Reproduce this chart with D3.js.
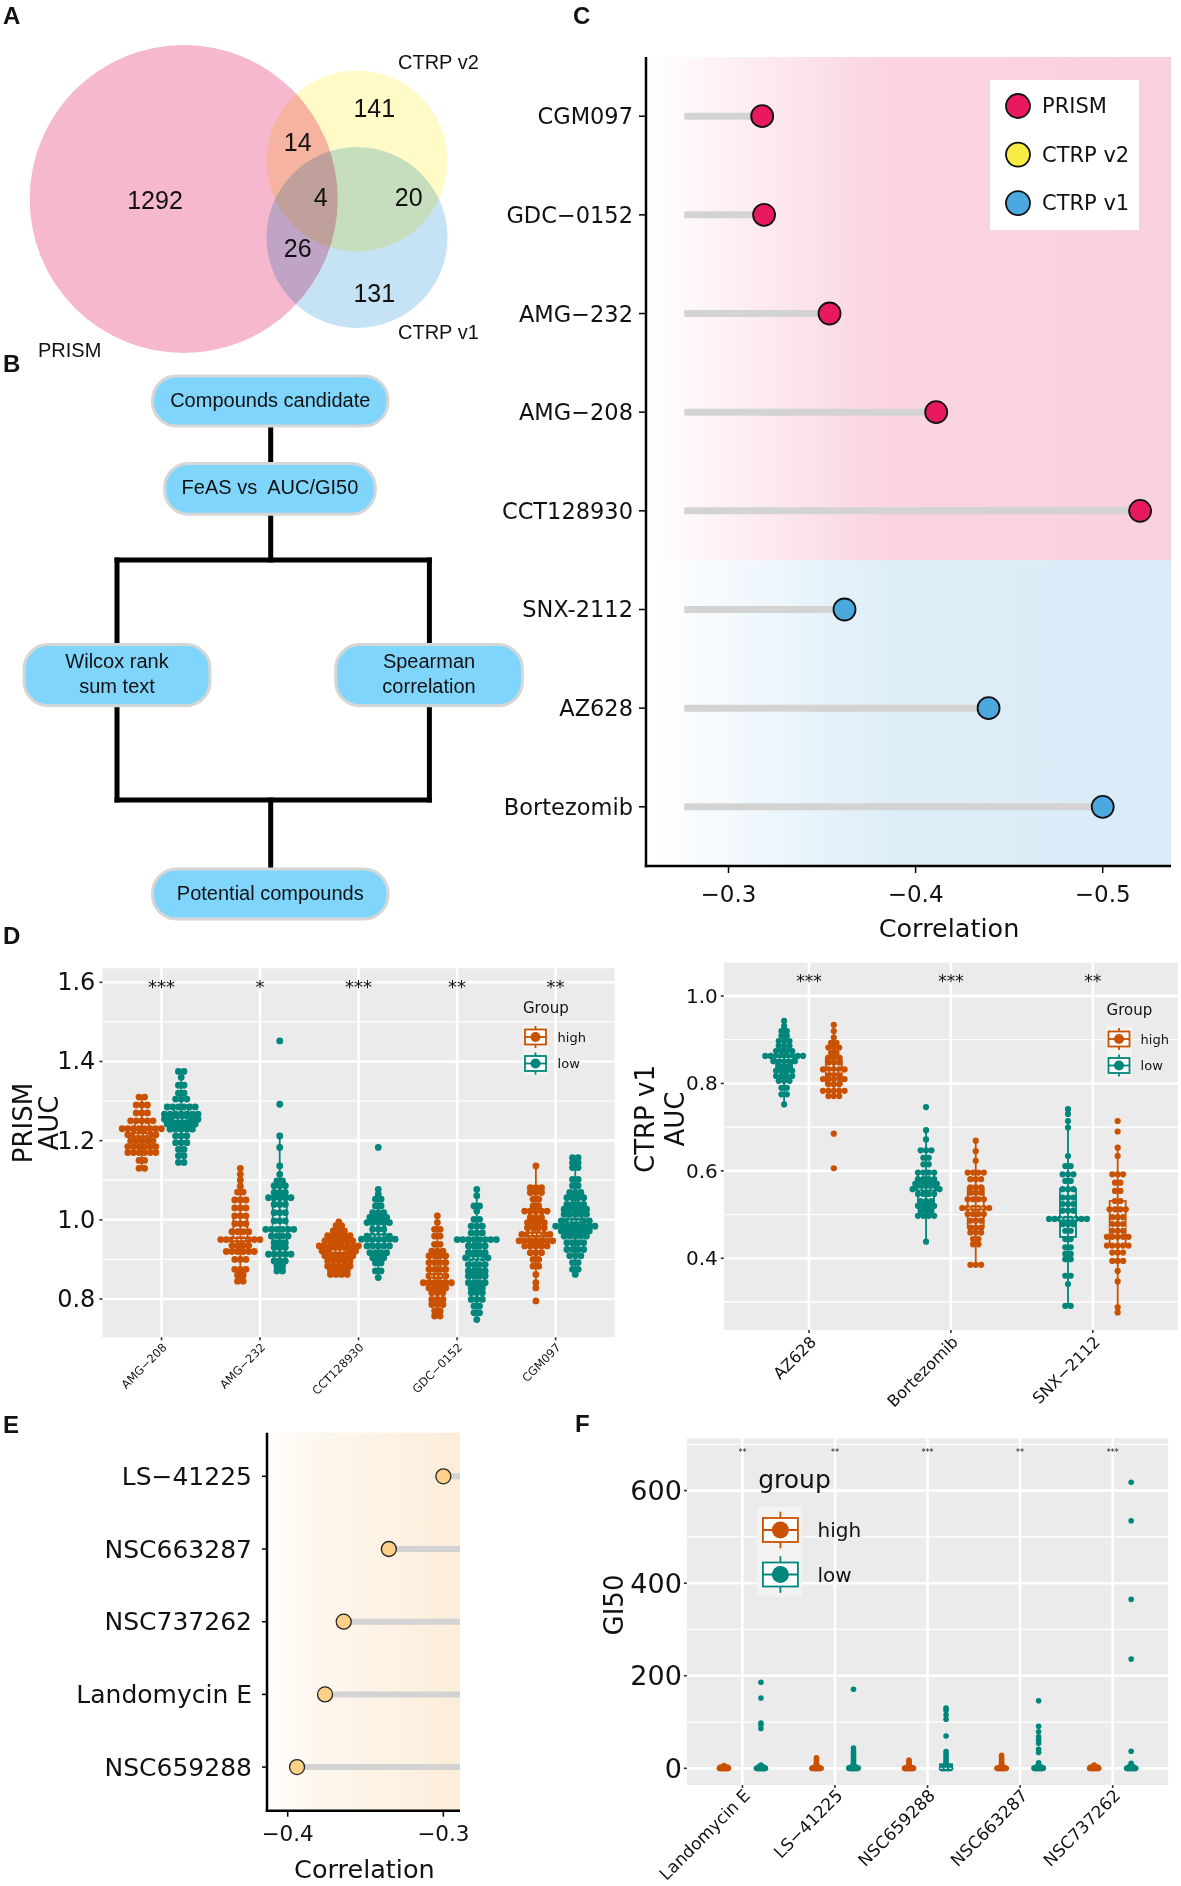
<!DOCTYPE html>
<html>
<head>
<meta charset="utf-8">
<script src="https://cdn.jsdelivr.net/npm/d3@7"></script>
<style>
  body { margin: 0; background: #fff; }
  text { font-family: "DejaVu Sans", sans-serif; fill: #111; }
  .arial { font-family: "Liberation Sans", Arial, sans-serif; }
</style>
</head>
<body>
<svg id="fig" width="1181" height="1886"></svg>
<script>
'use strict';

// ---------- data ----------
// A: venn
var vennSets = ['PRISM', 'CTRP v2', 'CTRP v1'];
var vennRegions = ['PRISM', 'CTRP v2', 'CTRP v1', 'PRISM+v2', 'PRISM+v1', 'v2+v1', 'all'];
var vennCounts = [1292, 141, 131, 14, 26, 20, 4];

// B: flow chart
var flowSteps = ['Compounds candidate', 'FeAS vs  AUC/GI50', 'Wilcox rank\nsum text', 'Spearman\ncorrelation', 'Potential compounds'];

// C: lollipop
var cDrugs = ['CGM097', 'GDC\u22120152', 'AMG\u2212232', 'AMG\u2212208', 'CCT128930', 'SNX-2112', 'AZ628', 'Bortezomib'];
var cCorr = [-0.318, -0.319, -0.354, -0.411, -0.520, -0.362, -0.439, -0.500];
var cSource = ['PRISM', 'PRISM', 'PRISM', 'PRISM', 'PRISM', 'CTRP v1', 'CTRP v1', 'CTRP v1'];
var cTicks = [-0.3, -0.4, -0.5];
var segStart = -0.2764;

// D: PRISM AUC, rows of [value, count]
var prismDrugs = ['AMG\u2212208', 'AMG\u2212232', 'CCT128930', 'GDC\u22120152', 'CGM097'];
var prismSig = ['***', '*', '***', '**', '**'];
var prismHigh = [
  [[1.31,2],[1.29,3],[1.27,3],[1.25,5],[1.23,8],[1.215,6],[1.2,5],[1.185,6],[1.17,6],[1.15,2],[1.13,2]],
  [[1.13,1],[1.115,1],[1.1,1],[1.085,1],[1.07,2],[1.05,3],[1.03,3],[1.01,3],[0.99,3],[0.97,4],[0.95,8],[0.935,4],[0.92,6],[0.9,3],[0.875,3],[0.86,2],[0.845,2]],
  [[0.995,1],[0.985,2],[0.972,3],[0.96,5],[0.947,6],[0.934,8],[0.921,7],[0.909,6],[0.896,5],[0.883,5],[0.871,4],[0.862,4]],
  [[1.01,1],[0.993,1],[0.976,2],[0.959,2],[0.938,2],[0.921,3],[0.909,4],[0.892,4],[0.875,4],[0.858,4],[0.841,6],[0.828,4],[0.816,3],[0.799,3],[0.786,3],[0.77,2],[0.757,2]],
  [[1.136,1],[1.081,3],[1.069,3],[1.052,2],[1.035,2],[1.022,5],[1.006,3],[0.993,4],[0.98,4],[0.963,6],[0.947,7],[0.934,5],[0.917,3],[0.9,2],[0.883,2],[0.862,1],[0.841,1],[0.828,1],[0.795,1]]
];
var prismLow = [
  [[1.375,2],[1.36,1],[1.34,2],[1.32,2],[1.305,3],[1.285,6],[1.267,7],[1.254,7],[1.242,6],[1.229,5],[1.212,3],[1.195,3],[1.178,2],[1.162,2],[1.145,2]],
  [[1.452,1],[1.292,1],[1.212,1],[1.183,1],[1.136,1],[1.115,1],[1.098,2],[1.086,3],[1.069,3],[1.056,5],[1.039,3],[1.018,3],[0.997,3],[0.976,6],[0.959,4],[0.942,3],[0.93,3],[0.913,5],[0.896,3],[0.883,2],[0.871,2]],
  [[1.183,1],[1.077,1],[1.065,1],[1.052,2],[1.035,2],[1.018,3],[1.006,4],[0.993,5],[0.976,3],[0.959,5],[0.951,7],[0.934,5],[0.917,4],[0.904,3],[0.891,2],[0.871,2],[0.854,1]],
  [[1.077,1],[1.061,1],[1.035,2],[1.022,1],[1.001,2],[0.984,3],[0.967,3],[0.95,8],[0.934,4],[0.917,4],[0.904,5],[0.887,4],[0.871,4],[0.858,4],[0.841,4],[0.828,3],[0.816,3],[0.799,3],[0.782,2],[0.765,2],[0.748,1]],
  [[1.157,2],[1.144,2],[1.132,2],[1.102,2],[1.086,2],[1.069,3],[1.056,4],[1.039,4],[1.027,5],[1.014,5],[0.997,6],[0.984,8],[0.972,6],[0.959,5],[0.942,4],[0.925,4],[0.909,3],[0.892,2],[0.875,2],[0.862,1]]
];

// D: CTRP v1 AUC
var ctrpDrugs = ['AZ628', 'Bortezomib', 'SNX\u22122112'];
var ctrpSig = ['***', '***', '**'];
var ctrpLow = [
  [[0.943,1],[0.931,1],[0.92,2],[0.909,2],[0.897,3],[0.886,3],[0.874,4],[0.863,8],[0.851,5],[0.84,3],[0.829,4],[0.817,4],[0.806,3],[0.79,2],[0.775,2],[0.752,1]],
  [[0.746,1],[0.693,1],[0.672,1],[0.647,3],[0.63,2],[0.615,2],[0.596,4],[0.581,4],[0.57,5],[0.558,6],[0.547,4],[0.531,3],[0.52,4],[0.509,3],[0.497,4],[0.438,1]],
  [[0.741,1],[0.73,1],[0.714,1],[0.699,1],[0.634,1],[0.611,2],[0.592,3],[0.577,2],[0.558,3],[0.539,3],[0.524,3],[0.509,3],[0.49,8],[0.478,3],[0.463,2],[0.444,2],[0.425,2],[0.41,2],[0.398,2],[0.36,2],[0.341,1],[0.291,2]]
];
var ctrpHigh = [
  [[0.934,1],[0.92,1],[0.905,1],[0.893,2],[0.882,3],[0.87,2],[0.859,3],[0.848,3],[0.832,5],[0.821,3],[0.81,5],[0.798,3],[0.783,5],[0.771,3],[0.685,1],[0.606,1]],
  [[0.669,1],[0.645,1],[0.623,1],[0.596,4],[0.581,3],[0.562,3],[0.55,3],[0.535,4],[0.515,6],[0.501,4],[0.486,3],[0.47,3],[0.459,3],[0.444,2],[0.432,2],[0.385,3]],
  [[0.714,1],[0.69,1],[0.653,1],[0.634,1],[0.592,3],[0.573,2],[0.554,2],[0.531,2],[0.512,4],[0.494,3],[0.478,3],[0.463,3],[0.449,5],[0.429,5],[0.413,3],[0.394,3],[0.371,1],[0.347,1],[0.288,1],[0.276,1]]
];

// E: lollipop
var eDrugs = ['LS\u221241225', 'NSC663287', 'NSC737262', 'Landomycin E', 'NSC659288'];
var eCorr = [-0.300, -0.335, -0.364, -0.376, -0.394];
var eTicks = [-0.4, -0.3];

// F: GI50
var fDrugs = ['Landomycin E', 'LS\u221241225', 'NSC659288', 'NSC663287', 'NSC737262'];
var fSig = ['**', '**', '***', '**', '***'];
var fHigh = [
  [[0,30],[3,3],[6,1]],
  [[0,30],[3,2],[7,1],[11,1],[15,1],[19,1],[23,1]],
  [[0,30],[3,2],[7,1],[11,1],[15,1],[18,1]],
  [[0,30],[3,2],[7,1],[11,1],[15,1],[19,1],[23,1],[28,1]],
  [[0,30],[3,3],[7,1]]
];
var fLow = [
  [[0,30],[4,2],[7,1],[86,1],[94,1],[98,1],[152,1],[186,1]],
  [[0,30],[4,2],[8,1],[12,1],[16,1],[20,1],[24,1],[28,1],[33,1],[38,1],[44,1],[171,1]],
  [[0,30],[4,2],[8,1],[12,1],[16,1],[20,1],[25,1],[30,1],[36,1],[70,1],[106,1],[115,1],[125,1],[130,1]],
  [[0,30],[4,2],[12,1],[34,1],[41,1],[54,1],[61,1],[68,1],[79,1],[91,1],[146,1]],
  [[0,30],[4,2],[11,1],[37,1],[236,1],[365,1],[535,1],[618,1]]
];

var ORANGE = '#c95100', TEAL = '#00867a';
var srcColor = {'PRISM': '#e8195e', 'CTRP v2': '#f6ec44', 'CTRP v1': '#4ba9e0'};

// ---------- setup ----------
var svg = d3.select('#fig');
svg.append('rect').attr('width', 1181).attr('height', 1886).attr('fill', '#fff');
var defs = svg.append('defs');

function hGrad(id, stops) {
  var lg = defs.append('linearGradient').attr('id', id)
    .attr('x1', 0).attr('x2', 1).attr('y1', 0).attr('y2', 0);
  stops.forEach(function(s) { lg.append('stop').attr('offset', s[0]).attr('stop-color', s[1]); });
}
hGrad('gPink', [[0, '#ffffff'], [0.45, '#fad5e1'], [1, '#f9d1de']]);
hGrad('gBlue', [[0, '#ffffff'], [0.45, '#deeef8'], [1, '#d9ebf7']]);
hGrad('gCream', [[0, '#fffefb'], [0.25, '#fdf7ee'], [1, '#fcedd9']]);

// panel letters
[['A', 3, 24], ['B', 3, 372], ['C', 573, 24], ['D', 3, 944], ['E', 3, 1433], ['F', 575, 1432]]
  .forEach(function(l) {
    svg.append('text').attr('class', 'arial').attr('x', l[1]).attr('y', l[2])
      .attr('font-size', 24).attr('font-weight', 'bold').text(l[0]);
  });

// ---------- A: venn ----------
var vennCircles = [[183.7, 199, 154], [357, 161, 90.5], [357, 237.5, 90.5]];
var vennFill = ['#f6b8ce', '#fffac6', '#c6e3f5'];
var gA = svg.append('g').style('isolation', 'isolate');
gA.selectAll('circle').data(vennSets).join('circle')
  .attr('cx', function(d, i) { return vennCircles[i][0]; })
  .attr('cy', function(d, i) { return vennCircles[i][1]; })
  .attr('r', function(d, i) { return vennCircles[i][2]; })
  .attr('fill', function(d, i) { return vennFill[i]; })
  .style('mix-blend-mode', 'multiply');

var vennSetLabel = [[38, 357], [398, 68.5], [398, 338.5]];
svg.selectAll('.vset').data(vennSets).join('text').attr('class', 'arial vset')
  .attr('x', function(d, i) { return vennSetLabel[i][0]; })
  .attr('y', function(d, i) { return vennSetLabel[i][1]; })
  .attr('font-size', 20).text(function(d) { return d; });

var vennNumPos = [[155, 200], [374.3, 108.3], [374.3, 293.3], [297.7, 141.7], [297.7, 248.3], [408.7, 196.7], [320.7, 196.7]];
svg.selectAll('.vnum').data(vennCounts).join('text').attr('class', 'arial vnum')
  .attr('x', function(d, i) { return vennNumPos[i][0]; })
  .attr('y', function(d, i) { return vennNumPos[i][1]; })
  .attr('text-anchor', 'middle').attr('dominant-baseline', 'central')
  .attr('font-size', 25).text(function(d) { return d; });

// ---------- B: flow chart ----------
var flowBoxes = [[152.5, 376, 235.5, 50], [164.6, 463.6, 210.7, 50.7], [24.1, 644.6, 185.9, 61.1],
                 [335.7, 644.6, 186.7, 61.1], [152.5, 869, 235.5, 50]];
var links = [[270.7, 426, 270.7, 463.6], [270.7, 514.3, 270.7, 560], [117, 560, 429.4, 560],
             [117, 560, 117, 644.6], [429.4, 560, 429.4, 644.6], [117, 705.7, 117, 800],
             [429.4, 705.7, 429.4, 800], [117, 800, 429.4, 800], [270.7, 800, 270.7, 869]];
var gB = svg.append('g');
gB.selectAll('line').data(links).join('line')
  .attr('x1', function(d) { return d[0]; }).attr('y1', function(d) { return d[1]; })
  .attr('x2', function(d) { return d[2]; }).attr('y2', function(d) { return d[3]; })
  .attr('stroke', '#000').attr('stroke-width', 5).attr('stroke-linecap', 'square');
flowSteps.forEach(function(s, i) {
  var b = flowBoxes[i];
  gB.append('rect').attr('x', b[0]).attr('y', b[1]).attr('width', b[2]).attr('height', b[3])
    .attr('rx', 24).attr('fill', '#80d5fd').attr('stroke', '#d6d6d6').attr('stroke-width', 3);
  var lines = s.split('\n');
  lines.forEach(function(t, j) {
    gB.append('text').attr('class', 'arial')
      .attr('x', b[0] + b[2] / 2)
      .attr('y', b[1] + b[3] / 2 - 1.5 + (j - (lines.length - 1) / 2) * 24.7)
      .attr('text-anchor', 'middle').attr('dominant-baseline', 'central')
      .attr('font-size', 20).style('white-space', 'pre').text(t);
  });
});

// ---------- C: lollipop ----------
(function() {
  var x0 = 646, x1 = 1171, y0 = 57, y1 = 866;
  var x = d3.scaleLinear().domain([-0.2559, -0.5365]).range([x0, x1]);
  var y = d3.scalePoint().domain(cDrugs).range([y0, y1]).padding(0.6);
  var g = svg.append('g');

  // background bands per source
  var bands = [['PRISM', 'gPink'], ['CTRP v1', 'gBlue']];
  bands.forEach(function(b, bi) {
    var rows = cDrugs.filter(function(d, i) { return cSource[i] === b[0]; });
    var top = bi === 0 ? y0 : y(rows[0]) - y.step() / 2;
    var bot = bi === bands.length - 1 ? y1 : y(rows[rows.length - 1]) + y.step() / 2;
    g.append('rect').attr('x', x0 + 1).attr('y', top).attr('width', x1 - x0 - 1).attr('height', bot - top)
      .attr('fill', 'url(#' + b[1] + ')');
  });

  g.selectAll('.seg').data(cDrugs).join('line').attr('class', 'seg')
    .attr('x1', x(segStart)).attr('x2', function(d, i) { return x(cCorr[i]); })
    .attr('y1', function(d) { return y(d); }).attr('y2', function(d) { return y(d); })
    .attr('stroke', '#d3d3d3').attr('stroke-width', 7);
  g.selectAll('.pt').data(cDrugs).join('circle').attr('class', 'pt')
    .attr('cx', function(d, i) { return x(cCorr[i]); }).attr('cy', function(d) { return y(d); })
    .attr('r', 11).attr('fill', function(d, i) { return srcColor[cSource[i]]; })
    .attr('stroke', '#111').attr('stroke-width', 1.8);

  // axes
  g.append('line').attr('x1', x0).attr('x2', x0).attr('y1', y0).attr('y2', y1 + 1.2)
    .attr('stroke', '#000').attr('stroke-width', 2.5);
  g.append('line').attr('x1', x0 - 1.2).attr('x2', x1).attr('y1', y1).attr('y2', y1)
    .attr('stroke', '#000').attr('stroke-width', 2.5);
  cDrugs.forEach(function(d) {
    g.append('line').attr('x1', x0 - 7).attr('x2', x0).attr('y1', y(d)).attr('y2', y(d))
      .attr('stroke', '#000').attr('stroke-width', 1.5);
    g.append('text').attr('x', x0 - 13).attr('y', y(d)).attr('text-anchor', 'end')
      .attr('dominant-baseline', 'central').attr('font-size', 22.5).text(d);
  });
  cTicks.forEach(function(t) {
    g.append('line').attr('x1', x(t)).attr('x2', x(t)).attr('y1', y1).attr('y2', y1 + 7)
      .attr('stroke', '#000').attr('stroke-width', 1.5);
    g.append('text').attr('x', x(t)).attr('y', y1 + 36).attr('text-anchor', 'middle')
      .attr('font-size', 23).text(d3.format('.1f')(t));
  });
  g.append('text').attr('x', 949).attr('y', 937).attr('text-anchor', 'middle')
    .attr('font-size', 25.5).text('Correlation');

  // legend
  var sources = ['PRISM', 'CTRP v2', 'CTRP v1'];
  g.append('rect').attr('x', 990).attr('y', 80).attr('width', 149).attr('height', 150).attr('fill', '#fff');
  sources.forEach(function(s, i) {
    var ly = 106 + i * 48.6;
    g.append('circle').attr('cx', 1018).attr('cy', ly).attr('r', 12)
      .attr('fill', srcColor[s]).attr('stroke', '#111').attr('stroke-width', 1.8);
    g.append('text').attr('x', 1042).attr('y', ly).attr('dominant-baseline', 'central')
      .attr('font-size', 21).text(s);
  });
})();

// ---------- E: lollipop ----------
(function() {
  var x0 = 267, x1 = 460, y0 = 1432.7, y1 = 1810.7;
  var x = d3.scaleLinear().domain([-0.4133, -0.2893]).range([x0, x1]);
  var y = d3.scalePoint().domain(eDrugs).range([y0, y1]).padding(0.6);
  var g = svg.append('g');
  defs.append('clipPath').attr('id', 'clipE').append('rect')
    .attr('x', x0).attr('y', y0).attr('width', x1 - x0).attr('height', y1 - y0);
  g.append('rect').attr('x', x0 + 1).attr('y', y0).attr('width', x1 - x0 - 1).attr('height', y1 - y0)
    .attr('fill', 'url(#gCream)');
  var gc = g.append('g').attr('clip-path', 'url(#clipE)');
  gc.selectAll('line').data(eDrugs).join('line')
    .attr('x1', function(d, i) { return x(eCorr[i]); }).attr('x2', x(segStart))
    .attr('y1', function(d) { return y(d); }).attr('y2', function(d) { return y(d); })
    .attr('stroke', '#d3d3d3').attr('stroke-width', 6);
  g.selectAll('circle').data(eDrugs).join('circle')
    .attr('cx', function(d, i) { return x(eCorr[i]); }).attr('cy', function(d) { return y(d); })
    .attr('r', 7.5).attr('fill', '#fdd08a').attr('stroke', '#222').attr('stroke-width', 1.3);

  g.append('line').attr('x1', x0).attr('x2', x0).attr('y1', y0).attr('y2', y1 + 1.2)
    .attr('stroke', '#000').attr('stroke-width', 2.5);
  g.append('line').attr('x1', x0 - 1.2).attr('x2', x1).attr('y1', y1).attr('y2', y1)
    .attr('stroke', '#000').attr('stroke-width', 2.5);
  eDrugs.forEach(function(d) {
    g.append('line').attr('x1', x0 - 5).attr('x2', x0).attr('y1', y(d)).attr('y2', y(d))
      .attr('stroke', '#000').attr('stroke-width', 1.5);
    g.append('text').attr('x', x0 - 15).attr('y', y(d)).attr('text-anchor', 'end')
      .attr('dominant-baseline', 'central').attr('font-size', 25).text(d);
  });
  eTicks.forEach(function(t) {
    g.append('line').attr('x1', x(t)).attr('x2', x(t)).attr('y1', y1).attr('y2', y1 + 6)
      .attr('stroke', '#000').attr('stroke-width', 1.5);
    g.append('text').attr('x', x(t)).attr('y', y1 + 30).attr('text-anchor', 'middle')
      .attr('font-size', 21.5).text(d3.format('.1f')(t));
  });
  g.append('text').attr('x', 364.4).attr('y', 1878).attr('text-anchor', 'middle')
    .attr('font-size', 25.5).text('Correlation');
})();

// ---------- D / F: swarm + box panels ----------
function boxStats(vals) {
  var s = vals.slice().sort(d3.ascending);
  var q1 = d3.quantile(s, 0.25), med = d3.quantile(s, 0.5), q3 = d3.quantile(s, 0.75);
  var iqr = q3 - q1;
  return {
    q1: q1, med: med, q3: q3,
    lo: d3.min(s.filter(function(v) { return v >= q1 - 1.5 * iqr; })),
    hi: d3.max(s.filter(function(v) { return v <= q3 + 1.5 * iqr; }))
  };
}

function legendKey(g, cx, cy, c, o) {
  g.append('line').attr('x1', cx).attr('x2', cx).attr('y1', cy - o.wl).attr('y2', cy + o.wl)
    .attr('stroke', c).attr('stroke-width', 1.8);
  g.append('rect').attr('x', cx - o.hw).attr('y', cy - o.hh).attr('width', 2 * o.hw).attr('height', 2 * o.hh)
    .attr('fill', '#fff').attr('stroke', c).attr('stroke-width', 1.8);
  g.append('line').attr('x1', cx - o.hw).attr('x2', cx + o.hw).attr('y1', cy).attr('y2', cy)
    .attr('stroke', c).attr('stroke-width', 1.8);
  g.append('circle').attr('cx', cx).attr('cy', cy).attr('r', o.kr).attr('fill', c);
}

function swarmPanel(cfg) {
  var g = svg.append('g');
  var x = d3.scalePoint().domain(cfg.drugs).range([cfg.x0, cfg.x1]).padding(0.6);
  var y = d3.scaleLinear().domain(cfg.yDomain).range([cfg.y1, cfg.y0]);
  var maxW = cfg.maxW || Infinity;

  g.append('rect').attr('x', cfg.x0).attr('y', cfg.y0)
    .attr('width', cfg.x1 - cfg.x0).attr('height', cfg.y1 - cfg.y0).attr('fill', '#ebebeb');
  cfg.minor.forEach(function(v) {
    g.append('line').attr('x1', cfg.x0).attr('x2', cfg.x1).attr('y1', y(v)).attr('y2', y(v))
      .attr('stroke', '#fff').attr('stroke-width', 1.3);
  });
  cfg.major.forEach(function(v) {
    g.append('line').attr('x1', cfg.x0).attr('x2', cfg.x1).attr('y1', y(v)).attr('y2', y(v))
      .attr('stroke', '#fff').attr('stroke-width', 2.6);
  });
  cfg.drugs.forEach(function(d) {
    g.append('line').attr('x1', x(d)).attr('x2', x(d)).attr('y1', cfg.y0).attr('y2', cfg.y1)
      .attr('stroke', '#fff').attr('stroke-width', 2.6);
  });

  var boxes = [], pts = [];
  cfg.groups.forEach(function(grp) {
    cfg.drugs.forEach(function(d, di) {
      var cx = x(d) + grp.off * x.step();
      var rows = grp.rows[di];
      var vals = [];
      rows.forEach(function(r) {
        var w = Math.min((r[1] - 1) * cfg.sp, maxW);
        for (var i = 0; i < r[1]; i++) {
          vals.push(r[0]);
          var t = r[1] > 1 ? i / (r[1] - 1) - 0.5 : 0;
          pts.push({x: cx + t * w, v: r[0], c: grp.color});
        }
      });
      var st = boxStats(vals);
      st.cx = cx; st.c = grp.color;
      boxes.push(st);
    });
  });

  boxes.forEach(function(b) {
    g.append('line').attr('x1', b.cx).attr('x2', b.cx).attr('y1', y(b.hi)).attr('y2', y(b.lo))
      .attr('stroke', b.c).attr('stroke-width', 1.8);
    g.append('rect').attr('x', b.cx - cfg.boxW / 2).attr('y', y(b.q3))
      .attr('width', cfg.boxW).attr('height', Math.max(0.5, y(b.q1) - y(b.q3)))
      .attr('fill', 'none').attr('stroke', b.c).attr('stroke-width', 1.8);
  });
  g.selectAll('.pt').data(pts).join('circle').attr('class', 'pt')
    .attr('cx', function(p) { return p.x; }).attr('cy', function(p) { return y(p.v); })
    .attr('r', cfg.r).attr('fill', function(p) { return p.c; });
  boxes.forEach(function(b) {
    if (y(b.q1) - y(b.q3) < 3) return;
    g.append('line').attr('x1', b.cx - cfg.boxW / 2).attr('x2', b.cx + cfg.boxW / 2)
      .attr('y1', y(b.med)).attr('y2', y(b.med))
      .attr('stroke', '#fff').attr('stroke-opacity', 0.8).attr('stroke-width', 1.2)
      .attr('stroke-dasharray', '2.5,2');
  });

  // significance
  cfg.sig.forEach(function(s, i) {
    g.append('text').attr('x', x(cfg.drugs[i])).attr('y', cfg.sigY).attr('text-anchor', 'middle')
      .attr('font-size', cfg.sigSize).text(s);
  });

  // axes
  var fmt = d3.format(cfg.tickFmt);
  cfg.major.forEach(function(v) {
    g.append('line').attr('x1', cfg.x0 - 3).attr('x2', cfg.x0).attr('y1', y(v)).attr('y2', y(v))
      .attr('stroke', '#333').attr('stroke-width', 1.6);
    g.append('text').attr('x', cfg.x0 - cfg.labelGap).attr('y', y(v)).attr('text-anchor', 'end')
      .attr('dominant-baseline', 'central').attr('font-size', cfg.tickSize).text(fmt(v));
  });
  cfg.drugs.forEach(function(d) {
    g.append('line').attr('x1', x(d)).attr('x2', x(d)).attr('y1', cfg.y1).attr('y2', cfg.y1 + 3)
      .attr('stroke', '#333').attr('stroke-width', 1.6);
    g.append('text').attr('transform', 'translate(' + x(d) + ',' + (cfg.y1 + cfg.xLabelDy) + ') rotate(-45)')
      .attr('text-anchor', 'end').attr('dy', '0.72em').attr('font-size', cfg.xLabelSize)
      .attr('fill', '#222').text(d);
  });
  cfg.title.forEach(function(t, i) {
    g.append('text').attr('transform', 'translate(' + cfg.titleX[i] + ',' + cfg.titleY + ') rotate(-90)')
      .attr('text-anchor', 'middle').attr('font-size', 26).text(t);
  });

  // legend
  var L = cfg.legend;
  g.append('text').attr('x', L.tx).attr('y', L.ty).attr('font-size', L.tsize).text(L.title);
  g.append('rect').attr('x', L.bg[0]).attr('y', L.bg[1]).attr('width', L.bg[2]).attr('height', L.bg[3])
    .attr('fill', '#f2f2f2');
  L.keys.forEach(function(k, i) {
    legendKey(g, L.kx, L.ky[i], k[1], L);
    g.append('text').attr('x', L.lx).attr('y', L.ky[i]).attr('dominant-baseline', 'central')
      .attr('font-size', L.lsize).text(k[0]);
  });
}

swarmPanel({
  drugs: prismDrugs, x0: 102.4, x1: 614.7, y0: 968.3, y1: 1337.3, yDomain: [0.7032, 1.6354],
  major: [0.8, 1.0, 1.2, 1.4, 1.6], minor: [0.9, 1.1, 1.3, 1.5],
  groups: [{color: ORANGE, rows: prismHigh, off: -0.2}, {color: TEAL, rows: prismLow, off: 0.2}],
  r: 3.4, sp: 5.6, boxW: 14, tickSize: 24, tickFmt: '.1f', labelGap: 7,
  xLabelSize: 11.5, xLabelDy: 5, sig: prismSig, sigSize: 18, sigY: 993,
  title: ['PRISM', 'AUC'], titleX: [32, 58], titleY: 1123,
  legend: {title: 'Group', tx: 523, ty: 1013, tsize: 15, kx: 535.5, ky: [1037, 1063.5],
           hw: 10.5, hh: 7.5, wl: 11, kr: 5, lx: 557.6, lsize: 13, bg: [522.7, 1025, 25.6, 50],
           keys: [['high', ORANGE], ['low', TEAL]]}
});

swarmPanel({
  drugs: ctrpDrugs, x0: 723.8, x1: 1178, y0: 962.7, y1: 1330, yDomain: [0.2359, 1.0762],
  major: [0.4, 0.6, 0.8, 1.0], minor: [0.3, 0.5, 0.7, 0.9],
  groups: [{color: TEAL, rows: ctrpLow, off: -0.175}, {color: ORANGE, rows: ctrpHigh, off: 0.175}],
  r: 3.1, sp: 5.4, boxW: 16, tickSize: 20, tickFmt: '.1f', labelGap: 6,
  xLabelSize: 16, xLabelDy: 5, sig: ctrpSig, sigSize: 17, sigY: 987,
  title: ['CTRP v1', 'AUC'], titleX: [654, 684], titleY: 1119,
  legend: {title: 'Group', tx: 1106.6, ty: 1015, tsize: 15, kx: 1119, ky: [1039, 1065.5],
           hw: 10.5, hh: 7.5, wl: 11, kr: 5, lx: 1140.6, lsize: 13, bg: [1106, 1026, 26, 52],
           keys: [['high', ORANGE], ['low', TEAL]]}
});

swarmPanel({
  drugs: fDrugs, x0: 686.9, x1: 1168.2, y0: 1438.3, y1: 1785, yDomain: [-36, 713],
  major: [0, 200, 400, 600], minor: [100, 300, 500, 700],
  groups: [{color: ORANGE, rows: fHigh, off: -0.2}, {color: TEAL, rows: fLow, off: 0.2}],
  r: 2.8, sp: 3.5, maxW: 9, boxW: 12, tickSize: 27, tickFmt: 'd', labelGap: 5,
  xLabelSize: 17, xLabelDy: 3, sig: fSig, sigSize: 8, sigY: 1455,
  title: ['GI50'], titleX: [622.6], titleY: 1605,
  legend: {title: 'group', tx: 758.2, ty: 1488.3, tsize: 25, kx: 780.4, ky: [1530, 1574.5],
           hw: 17.5, hh: 12, wl: 18.3, kr: 8.5, lx: 817.5, lsize: 20, bg: [757, 1506.7, 45, 90],
           keys: [['high', ORANGE], ['low', TEAL]]}
});
</script>
</body>
</html>
